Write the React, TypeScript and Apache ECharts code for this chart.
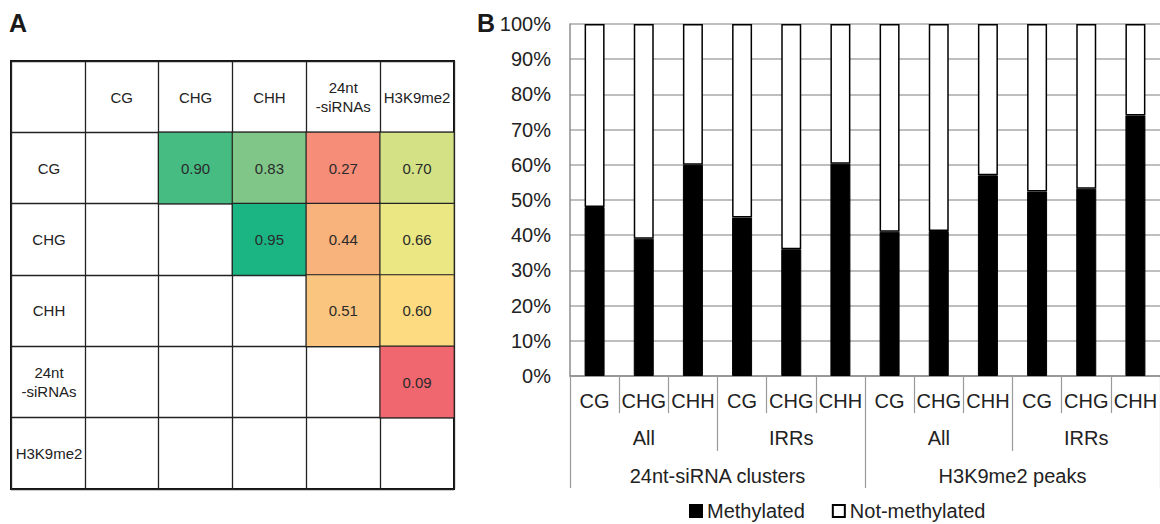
import React, { useEffect, useRef } from "react";
import * as echarts from "echarts";

// ---------- Panel A data ----------
const headers = ["CG", "CHG", "CHH", "24nt\n-siRNAs", "H3K9me2"];
const rowCG = [null, 0.9, 0.83, 0.27, 0.7];
const rowCHG = [null, null, 0.95, 0.44, 0.66];
const rowCHH = [null, null, null, 0.51, 0.6];
const rowSiRNA = [null, null, null, null, 0.09];
const rowH3K9 = [null, null, null, null, null];
const corrRows = [rowCG, rowCHG, rowCHH, rowSiRNA, rowH3K9];

// ---------- Panel B data ----------
const contexts = ["CG", "CHG", "CHH", "CG", "CHG", "CHH", "CG", "CHG", "CHH", "CG", "CHG", "CHH"];
const subsets = ["All", "IRRs", "All", "IRRs"];
const regions = ["24nt-siRNA clusters", "H3K9me2 peaks"];
const methylated = [48, 39, 60, 45, 36, 60.3, 41, 41.2, 57, 52.4, 53.2, 74];
const notMethylated = [52, 61, 40, 55, 64, 39.7, 59, 58.8, 43, 47.6, 46.8, 26];
const yTicks = [0, 10, 20, 30, 40, 50, 60, 70, 80, 90, 100];

// colour ramp (style) for the correlation heat map
const ramp: [number, string][] = [
  [0.09, "#F1676F"],
  [0.27, "#F68D78"],
  [0.44, "#F8B27B"],
  [0.51, "#FAC57F"],
  [0.6, "#FDDC81"],
  [0.66, "#EBE783"],
  [0.7, "#D4E285"],
  [0.83, "#7FC688"],
  [0.9, "#46BC82"],
  [0.95, "#1BB584"],
];
function hex(c: string) {
  return [1, 3, 5].map((i) => parseInt(c.slice(i, i + 2), 16));
}
function rampColor(v: number) {
  if (v <= ramp[0][0]) return ramp[0][1];
  for (let i = 1; i < ramp.length; i++) {
    if (v <= ramp[i][0] + 1e-9) {
      const [v0, c0] = ramp[i - 1];
      const [v1, c1] = ramp[i];
      const t = Math.min(1, (v - v0) / (v1 - v0));
      const a = hex(c0), b = hex(c1);
      const m = a.map((x, k) => Math.round(x + (b[k] - x) * t));
      return `rgb(${m[0]},${m[1]},${m[2]})`;
    }
  }
  return ramp[ramp.length - 1][1];
}

const FONT = '"Liberation Sans", Arial, Helvetica, sans-serif';

export default function App() {
  const ref = useRef<HTMLDivElement>(null);
  useEffect(() => {
    if (!ref.current) return;
    const chart = echarts.init(ref.current, null, { renderer: "svg" });

    const allHeaders = ["", ...headers];
    const heatData: any[] = [];
    corrRows.forEach((row, r) => {
      row.forEach((v, c) => {
        if (v !== null && v !== undefined) heatData.push([c + 1, r + 1, v]);
      });
    });
    const vMin = ramp[0][0];
    const vMax = ramp[ramp.length - 1][0];
    const steps = Math.round((vMax - vMin) * 100);
    const rampColors = Array.from({ length: steps + 1 }, (_, i) => rampColor(vMin + (i * (vMax - vMin)) / steps));

    const bLabel = { interval: 0, margin: 25, verticalAlign: "middle", fontSize: 20, color: "#222" };

    const option: any = {
      animation: false,
      backgroundColor: "#fff",
      textStyle: { fontFamily: FONT },
      graphic: [
        { type: "text", left: 9, top: 10, style: { text: "A", font: `bold 25px ${FONT}`, fill: "#1a1a1a" } },
        { type: "text", left: 477, top: 10, style: { text: "B", font: `bold 25px ${FONT}`, fill: "#1a1a1a" } },
      ],
      visualMap: {
        show: false,
        type: "continuous",
        seriesIndex: 0,
        dimension: 2,
        min: vMin,
        max: vMax,
        inRange: { color: rampColors },
      },
      legend: {
        data: ["Methylated", "Not-methylated"],
        left: 684,
        top: 499,
        padding: [2, 5],
        icon: "rect",
        itemWidth: 12,
        itemHeight: 12,
        itemGap: 27,
        textStyle: { fontSize: 20, color: "#222", fontFamily: FONT },
      },
      grid: [
        { left: 11, top: 61, width: 443, height: 428, show: true, borderColor: "#111", borderWidth: 2, backgroundColor: "transparent" },
        { left: 570, top: 24, width: 592, height: 352 },
      ],
      xAxis: [
        {
          gridIndex: 0,
          type: "category",
          position: "top",
          data: allHeaders,
          axisLine: { show: false },
          axisTick: { show: false },
          splitLine: { show: true, interval: 0, lineStyle: { color: "#222", width: 1.3 } },
          axisLabel: {
            inside: true,
            interval: 0,
            margin: 36,
            verticalAlign: "middle",
            fontSize: 15,
            lineHeight: 19,
            color: "#222",
          },
        },
        {
          gridIndex: 1,
          type: "category",
          position: "bottom",
          data: contexts,
          axisLine: { show: true, lineStyle: { color: "#8c8c8c", width: 1.5 } },
          axisTick: { show: true, length: 37, lineStyle: { color: "#9a9a9a", width: 1.2 } },
          axisLabel: bLabel,
        },
        {
          gridIndex: 1,
          type: "category",
          position: "bottom",
          offset: 37,
          data: subsets,
          axisLine: { show: false },
          axisTick: { show: true, length: 38, lineStyle: { color: "#9a9a9a", width: 1.2 } },
          axisLabel: bLabel,
        },
        {
          gridIndex: 1,
          type: "category",
          position: "bottom",
          offset: 75,
          data: regions,
          axisLine: { show: false },
          axisTick: { show: true, length: 37, lineStyle: { color: "#9a9a9a", width: 1.2 } },
          axisLabel: bLabel,
        },
      ],
      yAxis: [
        {
          gridIndex: 0,
          type: "category",
          inverse: true,
          data: allHeaders,
          axisLine: { show: false },
          axisTick: { show: false },
          splitLine: { show: true, interval: 0, lineStyle: { color: "#222", width: 1.3 } },
          axisLabel: {
            inside: true,
            interval: 0,
            margin: 38,
            align: "center",
            verticalAlign: "middle",
            fontSize: 15,
            lineHeight: 19,
            color: "#222",
          },
        },
        {
          gridIndex: 1,
          type: "value",
          min: yTicks[0],
          max: yTicks[yTicks.length - 1],
          interval: yTicks[1] - yTicks[0],
          axisLine: { show: true, lineStyle: { color: "#8c8c8c", width: 1.5 } },
          axisTick: { show: false },
          splitLine: { show: true, lineStyle: { color: "#a8a8a8", width: 1.5 } },
          axisLabel: { formatter: "{value}%", margin: 19, fontSize: 20, color: "#222" },
        },
      ],
      series: [
        {
          type: "heatmap",
          xAxisIndex: 0,
          yAxisIndex: 0,
          data: heatData,
          itemStyle: { borderColor: "#222", borderWidth: 1.2 },
          label: {
            show: true,
            fontSize: 15,
            color: "#2a2a2a",
            formatter: (p: any) => (p.value[2] as number).toFixed(2),
          },
        },
        {
          name: "Methylated",
          type: "bar",
          xAxisIndex: 1,
          yAxisIndex: 1,
          stack: "m",
          barWidth: 20,
          data: methylated,
          itemStyle: { color: "#000", borderColor: "#000", borderWidth: 1 },
        },
        {
          name: "Not-methylated",
          type: "bar",
          xAxisIndex: 1,
          yAxisIndex: 1,
          stack: "m",
          barWidth: 20,
          data: notMethylated,
          itemStyle: { color: "#fff", borderColor: "#000", borderWidth: 1.5 },
        },
      ],
    };
    chart.setOption(option);
    return () => chart.dispose();
  }, []);
  return (
    <div
      ref={ref}
      style={{ position: "absolute", left: 0, top: 0, width: 1160, height: 524, background: "#fff" }}
    />
  );
}
